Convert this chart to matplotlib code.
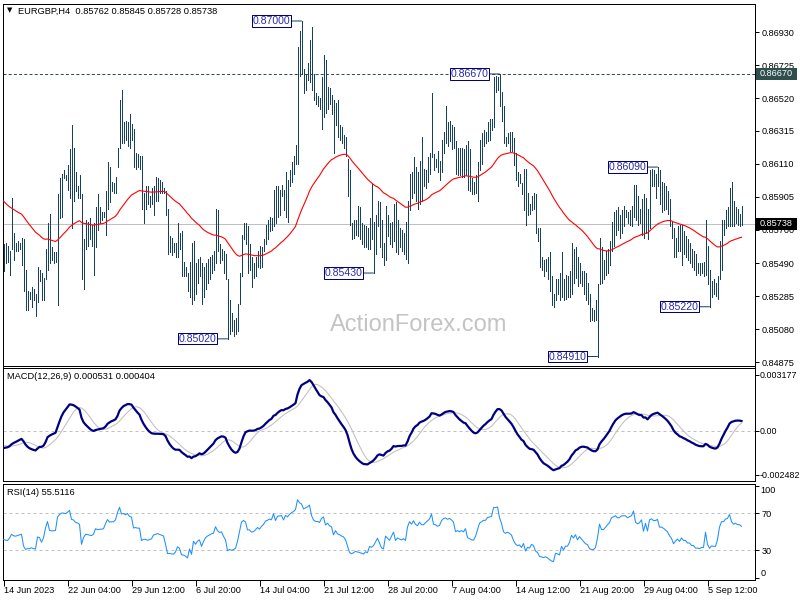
import numpy as np
import matplotlib
matplotlib.use("Agg")
import matplotlib.pyplot as plt
from matplotlib import transforms
from matplotlib.patches import Rectangle

# ---------------- data (prices in pips, 1 pip = 0.0001) ----------------
high_pips = [
    8561, 8562, 8560, 8557, 8590, 8568, 8562, 8563, 8562, 8565,
    8564, 8545, 8532, 8531, 8534, 8533, 8530, 8547, 8545, 8543,
    8540, 8558, 8574, 8580, 8559, 8556, 8556, 8592, 8602, 8605,
    8607, 8604, 8610, 8620, 8635, 8621, 8606, 8597, 8604, 8592,
    8564, 8576, 8575, 8577, 8573, 8574, 8584, 8592, 8584, 8581,
    8581, 8594, 8612, 8609, 8600, 8599, 8603, 8621, 8651, 8657,
    8637, 8638, 8637, 8642, 8636, 8633, 8618, 8617, 8616, 8616,
    8593, 8597, 8597, 8591, 8596, 8597, 8603, 8602, 8601, 8600,
    8596, 8594, 8583, 8566, 8565, 8562, 8562, 8574, 8568, 8569,
    8550, 8547, 8543, 8550, 8562, 8563, 8549, 8552, 8553, 8549,
    8547, 8549, 8552, 8553, 8554, 8557, 8583, 8582, 8561, 8558,
    8557, 8555, 8539, 8526, 8518, 8514, 8515, 8524, 8543, 8567,
    8574, 8574, 8572, 8561, 8553, 8549, 8553, 8557, 8560, 8559,
    8564, 8573, 8576, 8578, 8577, 8595, 8597, 8597, 8595, 8598,
    8595, 8606, 8601, 8607, 8612, 8616, 8623, 8684, 8694, 8700,
    8670, 8667, 8674, 8688, 8696, 8667, 8655, 8653, 8652, 8665,
    8679, 8676, 8659, 8658, 8654, 8651, 8649, 8651, 8635, 8634,
    8629, 8628, 8614, 8607, 8574, 8576, 8576, 8585, 8584, 8574,
    8573, 8572, 8571, 8577, 8599, 8575, 8579, 8588, 8587, 8576,
    8562, 8585, 8579, 8574, 8575, 8586, 8587, 8576, 8571, 8570,
    8568, 8575, 8588, 8605, 8606, 8615, 8609, 8606, 8613, 8628,
    8608, 8607, 8615, 8618, 8655, 8617, 8614, 8619, 8613, 8626,
    8631, 8647, 8637, 8638, 8635, 8634, 8625, 8621, 8621, 8621,
    8620, 8623, 8625, 8620, 8602, 8600, 8604, 8612, 8626, 8630,
    8632, 8631, 8637, 8639, 8639, 8665, 8666, 8665, 8667, 8656,
    8647, 8628, 8630, 8631, 8631, 8627, 8618, 8606, 8605, 8599,
    8608, 8608, 8593, 8586, 8591, 8593, 8592, 8571, 8571, 8553,
    8551, 8552, 8553, 8556, 8541, 8530, 8539, 8539, 8543, 8556,
    8539, 8542, 8541, 8544, 8562, 8558, 8559, 8553, 8549, 8544,
    8544, 8543, 8537, 8530, 8521, 8520, 8526, 8536, 8565, 8559,
    8551, 8557, 8558, 8563, 8575, 8581, 8582, 8584, 8579, 8582,
    8585, 8582, 8581, 8582, 8585, 8598, 8598, 8591, 8583, 8589,
    8592, 8590, 8583, 8607, 8608, 8607, 8605, 8609, 8607, 8600,
    8599, 8597, 8594, 8589, 8575, 8571, 8565, 8572, 8573, 8573,
    8569, 8566, 8564, 8562, 8558, 8557, 8555, 8549, 8549, 8549,
    8550, 8576, 8560, 8545, 8538, 8539, 8537, 8541, 8563, 8576,
    8576, 8582, 8584, 8596, 8600, 8588, 8584, 8583, 8580, 8584.5,
]
low_pips = [
    8544, 8549, 8550, 8542, 8558, 8551, 8557, 8557, 8558, 8548,
    8532, 8520, 8520, 8527, 8522, 8526, 8516, 8525, 8538, 8526,
    8526, 8539, 8545, 8549, 8551, 8549, 8550, 8523, 8577, 8578,
    8602, 8601, 8595, 8590, 8571, 8588, 8594, 8590, 8590, 8539,
    8533, 8558, 8560, 8564, 8560, 8542, 8559, 8570, 8574, 8576,
    8578, 8567, 8583, 8587, 8594, 8593, 8593, 8609, 8621, 8624,
    8624, 8626, 8622, 8621, 8626, 8609, 8608, 8609, 8608, 8583,
    8574, 8583, 8586, 8584, 8586, 8579, 8588, 8588, 8593, 8593,
    8593, 8579, 8555, 8556, 8554, 8556, 8553, 8553, 8558, 8541,
    8541, 8541, 8532, 8528, 8524, 8526, 8530, 8537, 8541, 8524,
    8528, 8533, 8537, 8539, 8543, 8545, 8549, 8557, 8549, 8551,
    8543, 8539, 8502, 8505, 8507, 8504, 8505, 8507, 8524, 8541,
    8564, 8561, 8543, 8545, 8534, 8540, 8541, 8547, 8546, 8547,
    8557, 8561, 8564, 8569, 8570, 8572, 8574, 8578, 8579, 8591,
    8582, 8578, 8575, 8597, 8600, 8605, 8611, 8611, 8666, 8667,
    8655, 8657, 8663, 8662, 8657, 8651, 8648, 8647, 8645, 8633,
    8640, 8643, 8645, 8648, 8642, 8618, 8635, 8628, 8626, 8624,
    8621, 8616, 8591, 8573, 8564, 8565, 8567, 8566, 8564, 8561,
    8559, 8559, 8558, 8558, 8564, 8543, 8555, 8572, 8559, 8553,
    8548, 8551, 8566, 8561, 8559, 8563, 8556, 8555, 8559, 8557,
    8555, 8552, 8549, 8582, 8590, 8593, 8588, 8583, 8586, 8588,
    8597, 8596, 8600, 8605, 8615, 8607, 8609, 8606, 8601, 8606,
    8618, 8624, 8622, 8625, 8620, 8621, 8605, 8604, 8604, 8603,
    8603, 8604, 8595, 8594, 8592, 8592, 8593, 8588, 8607, 8611,
    8622, 8624, 8625, 8626, 8632, 8634, 8656, 8657, 8647, 8638,
    8624, 8622, 8624, 8619, 8619, 8610, 8601, 8597, 8599, 8592,
    8582, 8573, 8579, 8580, 8582, 8583, 8568, 8563, 8547, 8545,
    8541, 8544, 8539, 8532, 8523, 8522, 8526, 8530, 8526, 8528,
    8526, 8527, 8528, 8528, 8530, 8537, 8540, 8535, 8537, 8535,
    8530, 8526, 8524, 8513, 8514, 8513, 8514, 8491, 8536, 8537,
    8539, 8542, 8543, 8548, 8557, 8560, 8567, 8570, 8565, 8568,
    8572, 8578, 8574, 8573, 8572, 8578, 8576, 8573, 8574, 8567,
    8565, 8568, 8564, 8571, 8597, 8597, 8590, 8597, 8586, 8581,
    8582, 8583, 8580, 8572, 8565, 8553, 8553, 8557, 8557, 8548,
    8555, 8553, 8551, 8549, 8547, 8545, 8542, 8543, 8542, 8543,
    8541, 8542, 8536, 8522, 8528, 8530, 8529, 8527, 8539, 8545,
    8567, 8571, 8572, 8572, 8572, 8572, 8574, 8573, 8572, 8572.8,
]
close_pips = [
    8555, 8553, 8552, 8556, 8563, 8560, 8559, 8560, 8561, 8562,
    8538, 8528, 8529, 8529, 8530, 8528, 8527, 8542, 8541, 8532,
    8538, 8555, 8570, 8553, 8552, 8552, 8553, 8588, 8597, 8603,
    8603, 8602, 8607, 8614, 8600, 8599, 8595, 8594, 8592, 8545,
    8560, 8568, 8568, 8566, 8565, 8568, 8580, 8578, 8579, 8579,
    8580, 8590, 8600, 8596, 8597, 8597, 8601, 8620, 8640, 8630,
    8632, 8630, 8634, 8630, 8629, 8612, 8613, 8612, 8612, 8588,
    8590, 8590, 8588, 8589, 8590, 8595, 8596, 8597, 8596, 8595,
    8594, 8582, 8560, 8560, 8559, 8558, 8560, 8565, 8562, 8546,
    8545, 8542, 8536, 8545, 8530, 8548, 8540, 8545, 8547, 8530,
    8538, 8545, 8548, 8550, 8552, 8553, 8565, 8558, 8555, 8556,
    8548, 8541, 8510, 8512, 8509, 8510, 8512, 8522, 8540, 8565,
    8570, 8567, 8550, 8550, 8545, 8546, 8550, 8555, 8552, 8558,
    8562, 8570, 8572, 8575, 8574, 8590, 8580, 8592, 8593, 8594,
    8588, 8600, 8598, 8605, 8610, 8614, 8620, 8675, 8670, 8668,
    8660, 8665, 8670, 8680, 8662, 8653, 8650, 8650, 8648, 8660,
    8665, 8650, 8655, 8650, 8648, 8630, 8640, 8632, 8630, 8627,
    8625, 8618, 8600, 8575, 8568, 8570, 8572, 8570, 8568, 8565,
    8562, 8565, 8562, 8570, 8568, 8570, 8575, 8580, 8570, 8558,
    8555, 8575, 8570, 8565, 8572, 8580, 8560, 8565, 8562, 8560,
    8562, 8558, 8585, 8600, 8595, 8605, 8598, 8595, 8605, 8600,
    8600, 8605, 8610, 8615, 8630, 8612, 8611, 8608, 8610, 8622,
    8628, 8630, 8628, 8630, 8628, 8625, 8610, 8612, 8610, 8612,
    8610, 8615, 8600, 8598, 8596, 8595, 8600, 8610, 8622, 8625,
    8628, 8628, 8634, 8635, 8636, 8660, 8660, 8662, 8650, 8642,
    8628, 8625, 8627, 8625, 8622, 8612, 8604, 8600, 8601, 8595,
    8600, 8580, 8585, 8583, 8588, 8585, 8570, 8565, 8550, 8548,
    8545, 8546, 8542, 8535, 8528, 8526, 8535, 8533, 8530, 8540,
    8530, 8535, 8535, 8540, 8550, 8545, 8550, 8540, 8545, 8540,
    8535, 8530, 8528, 8518, 8516, 8516, 8518, 8530, 8555, 8545,
    8545, 8550, 8555, 8560, 8572, 8575, 8578, 8575, 8576, 8580,
    8580, 8580, 8578, 8580, 8582, 8592, 8580, 8578, 8580, 8585,
    8570, 8585, 8572, 8600, 8603, 8600, 8600, 8603, 8590, 8590,
    8588, 8585, 8582, 8575, 8570, 8558, 8562, 8565, 8560, 8565,
    8560, 8560, 8555, 8555, 8550, 8550, 8545, 8545, 8544, 8545,
    8545, 8560, 8540, 8530, 8533, 8532, 8532, 8540, 8560, 8572,
    8572, 8578, 8580, 8590, 8580, 8576, 8578, 8576, 8576, 8573.8,
]

symbol = "EURGBP,H4"
last_ohlc = [0.85762, 0.85845, 0.85728, 0.85738]
resistance_level = 0.86670

# swing labels: (bar index, 'H' for high / 'L' for low)
swing_points = [(112, 'L'), (149, 'H'), (185, 'L'), (248, 'H'), (297, 'L'), (327, 'H'), (353, 'L')]

price_ticks = [0.86930, 0.86725, 0.86520, 0.86315, 0.86110, 0.85905,
               0.85700, 0.85490, 0.85285, 0.85080, 0.84875]
macd_ticks = [0.003177, 0.0, -0.002482]
macd_tick_labels = ["0.003177", "0.00", "-0.002482"]
macd_title = "MACD(12,26,9) 0.000531 0.000404"
rsi_title = "RSI(14) 55.5116"
date_tick_bars = [0, 32, 64, 96, 128, 160, 192, 224, 256, 288, 320, 352]
date_tick_labels = ["14 Jun 2023", "22 Jun 04:00", "29 Jun 12:00", "6 Jul 20:00",
                    "14 Jul 04:00", "21 Jul 12:00", "28 Jul 20:00", "7 Aug 04:00",
                    "14 Aug 12:00", "21 Aug 20:00", "29 Aug 04:00", "5 Sep 12:00"]

ema55_start = 0.8589
ema12_start = 0.8560
ema26_start = 0.8570
signal_start = -0.0008
rsi_prev_close = 0.8556
rsi_avg_gain_start = 0.00035
rsi_avg_loss_start = 0.00048

high = np.array(high_pips) / 10000.0
low = np.array(low_pips) / 10000.0
close = np.array(close_pips) / 10000.0
n = len(close)
idx = np.arange(n)

# ---------------- indicators ----------------
def ema(values, period, start):
    a = 2.0 / (period + 1)
    out = np.empty(len(values))
    prev = start
    for i, v in enumerate(values):
        prev = prev + a * (v - prev)
        out[i] = prev
    return out

ema55 = ema(close, 55, ema55_start)
macd_main = ema(close, 12, ema12_start) - ema(close, 26, ema26_start)
hist = np.concatenate([np.full(8, signal_start), macd_main])
macd_signal = np.array([hist[i:i + 9].mean() for i in range(n)])

rsi = np.empty(n)
ag, al, pc = rsi_avg_gain_start, rsi_avg_loss_start, rsi_prev_close
for i, c in enumerate(close):
    d = c - pc
    ag = (ag * 13 + max(d, 0)) / 14
    al = (al * 13 + max(-d, 0)) / 14
    rsi[i] = 100 - 100 / (1 + ag / al)
    pc = c

# ---------------- figure ----------------
plt.rcParams['font.family'] = ['Liberation Sans', 'DejaVu Sans']
W, H = 800, 600
fig = plt.figure(figsize=(8, 6), dpi=100)
fig.patch.set_facecolor('white')

def rect(x0, y0, x1, y1):
    return [x0 / W, 1 - y1 / H, (x1 - x0) / W, (y1 - y0) / H]

BAR = '#17425f'
LW1 = 0.72
FS = 6.6

ax = fig.add_axes(rect(2.5, 3.5, 754.5, 365.5))
ax2 = fig.add_axes(rect(2.5, 367.5, 754.5, 481))
ax3 = fig.add_axes(rect(2.5, 483.5, 754.5, 579.5))

for a in (ax, ax2, ax3):
    a.set_xlim(-0.5, 375.5)
    a.set_facecolor('white')
    for s in a.spines.values():
        s.set_linewidth(LW1)
        s.set_color('black')
    a.yaxis.tick_right()
    a.tick_params(axis='y', direction='out', length=3, width=LW1, pad=2,
                  labelsize=FS, colors='black', left=False, right=True)
    a.tick_params(axis='x', bottom=False, labelbottom=False)

# main panel
ax.set_ylim(0.84854, 0.87109)
ax.text(0.553, 0.111, "ActionForex.com", transform=ax.transAxes, fontsize=17,
        color='#c4c4c4', ha='center', va='center', zorder=0)
ax.vlines(idx, low, high, colors=BAR, linewidth=LW1, antialiased=False, zorder=2)
ax.plot(idx, ema55, color='#ff0000', lw=0.8, zorder=3)
ax.axhline(last_ohlc[3], color='#c0c0c0', lw=LW1, zorder=1)
ax.axhline(resistance_level, color='#2f4f4f', lw=LW1, dashes=(3, 2.2), zorder=1)
ax.set_yticks(price_ticks)
ax.set_yticklabels([f"{v:.5f}" for v in price_ticks])

for i, kind in swing_points:
    val = high[i] if kind == 'H' else low[i]
    ax.annotate(f"{val:.5f}", xy=(i, val), xytext=(-11, 0), textcoords='offset pixels',
                ha='right', va='center', fontsize=7.6, color='#2a2aa8', zorder=6,
                bbox=dict(boxstyle='square,pad=0.06', fc='white', ec='#000080', lw=LW1),
                arrowprops=dict(arrowstyle='-', color=BAR, lw=LW1, shrinkA=0, shrinkB=0))

# highlighted right-axis labels
bt = transforms.blended_transform_factory(fig.transFigure, ax.transData)
box_h = 12 / 16053.0
for val, fc in ((resistance_level, '#2f4f4f'), (last_ohlc[3], '#000000')):
    ax.add_patch(Rectangle((756 / W, val - box_h / 2), 41 / W, box_h, transform=bt,
                           fc=fc, ec='none', clip_on=False, zorder=7))
    ax.text(759.5 / W, val, f"{val:.5f}", transform=bt, ha='left', va='center',
            fontsize=FS, color='white', clip_on=False, zorder=8)

# header
fig.text(7 / W, 1 - 10.5 / H, "\u25BC", fontsize=5, family='DejaVu Sans',
         ha='left', va='center')
fig.text(18 / W, 1 - 11 / H,
         f"{symbol}  " + " ".join(f"{v:.5f}" for v in last_ohlc),
         fontsize=6.7, ha='left', va='center')

# MACD panel
ax2.set_ylim(-0.002835, 0.0036)
ax2.axhline(0, color='#c0c0c0', lw=LW1, dashes=(3, 3), zorder=1)
ax2.plot(idx, macd_signal, color='#c0c0c0', lw=0.75, zorder=2)
ax2.plot(idx, macd_main, color='#000080', lw=1.6, zorder=3)
ax2.set_yticks(macd_ticks)
ax2.set_yticklabels(macd_tick_labels)
ax2.tick_params(axis='y', pad=0.6, labelsize=6.4)
fig.text(7.3 / W, 1 - 376.7 / H, macd_title, fontsize=6.7, ha='left', va='center')

# RSI panel
ax3.set_ylim(-1.6, 102.2)
for lvl in (70, 30):
    ax3.axhline(lvl, color='#c0c0c0', lw=LW1, dashes=(3, 3), zorder=1)
ax3.plot(idx, rsi, color='#1e90ff', lw=0.75, zorder=3)
ax3.set_yticks([100, 70, 30, 0])
ax3.set_yticklabels(['', '70', '30', ''])
tr3 = ax3.get_yaxis_transform()
ax3.text(1.0075, 100, "100", transform=tr3, fontsize=FS, ha='left', va='top')
ax3.text(1.0075, 0, "0", transform=tr3, fontsize=FS, ha='left', va='bottom')
fig.text(7.3 / W, 1 - 492.7 / H, rsi_title, fontsize=6.7, ha='left', va='center')

ax3.tick_params(axis='x', bottom=True, labelbottom=True, direction='out', length=4,
                width=LW1, pad=1, labelsize=FS)
ax3.set_xticks(date_tick_bars)
ax3.set_xticklabels(date_tick_labels)
for lbl in ax3.get_xticklabels():
    lbl.set_ha('left')

fig.savefig("out.png", dpi=100, facecolor='white')
